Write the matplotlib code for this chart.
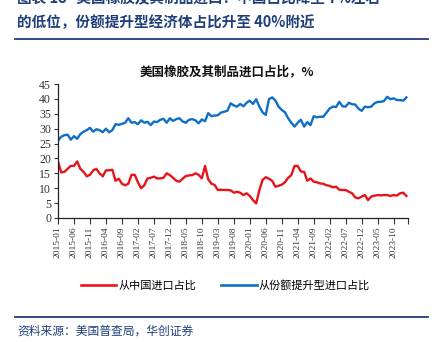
import numpy as np
import pandas as pd
import matplotlib
matplotlib.use("Agg")
import matplotlib.pyplot as plt
from matplotlib.lines import Line2D

plt.rcParams['font.family'] = ['Noto Sans CJK SC', 'DejaVu Sans']

# monthly, 2015-01 .. 2024-02
months = pd.date_range("2015-01-01", periods=110, freq="MS").strftime("%Y-%m").tolist()

china_share = [
    19, 15.3, 15.5, 16.5, 17.5, 17.5, 19, 16.5, 15.5, 14,
    14.5, 16, 16.5, 15, 14, 16, 16, 16.2, 12.5, 13.2,
    11.5, 11, 11.5, 14.5, 14.5, 12, 10, 11, 13.3, 13.5,
    13.9, 13.3, 13.3, 13.5, 15, 14.4, 13.5, 12.5, 12.2, 13.2,
    14.1, 14.3, 14.4, 15, 14.5, 13.3, 17.5, 13, 11.5, 11.1,
    9.4, 9.5, 9.4, 9.4, 9.3, 8.5, 8.8, 8.5, 7.7, 8.3,
    7.4, 6, 4.9, 9.4, 12.8, 13.7, 13.2, 12.5, 10.5, 10.8,
    11.2, 12, 13.5, 14.4, 17.5, 17.5, 15.6, 15.5, 12.5, 13.3,
    12.2, 12, 11.6, 11.5, 11, 10.8, 10.3, 10.5, 9.5, 9.4,
    9.4, 8.8, 8.3, 6.9, 6.6, 7.2, 7.7, 6, 7.2, 7.5,
    7.7, 7.6, 7.7, 7.7, 7.4, 7.7, 7.5, 8.3, 8.5, 7.4,
]

rising_share = [
    26, 27.3, 27.8, 28, 26.3, 27.5, 26.6, 28.2, 29, 29.5,
    30.3, 29, 29.8, 29.5, 28.8, 30, 28.8, 29.5, 31.5, 31.3,
    31.6, 32, 33.5, 32, 32.2, 31.5, 32.8, 32, 32.3, 31.2,
    32.4, 32.2, 33, 33.3, 32, 33.5, 32.6, 33.2, 33.5, 32.4,
    32, 33, 33.2, 32.8, 31.8, 33.1, 32.5, 35.2, 34.2, 34.4,
    34.5, 35.4, 35.7, 36, 38.5, 37.8, 37.4, 38.3, 37.5, 38.7,
    39.4, 38.3, 39.9, 37.4, 35.5, 34.6, 39.9, 40.5, 39.5, 37.4,
    36.3, 35.5, 33.5, 32, 30.7, 32, 33, 30.7, 32.2, 31.2,
    34.2, 33.8, 34, 34, 35.4, 36.8, 37.4, 37.3, 39, 37.5,
    37.4, 38.7, 38.2, 38.1, 36.7, 36, 37.4, 37.2, 37.4, 38.5,
    39, 39, 39.3, 40.7, 39.9, 40.2, 39.6, 39.6, 39.4, 40.5,
]

series_names = ["从中国进口占比", "从份额提升型进口占比"]
colors = ["#E8141B", "#0F6FC6"]
navy = "#1F3F7A"
serif = "Liberation Serif"

fig = plt.figure(figsize=(4.42, 3.42), dpi=100)
ax = fig.add_axes([58 / 442, 1 - 218 / 342, 350 / 442, 134 / 342])

x = np.arange(len(months))
ax.plot(x, china_share, color=colors[0], lw=1.7)
ax.plot(x, rising_share, color=colors[1], lw=1.7)

ax.set_xlim(0, 109.5)
ax.set_ylim(0, 45)
ax.set_yticks(np.arange(0, 50, 5))
ax.set_xticks(x[::5])
ax.set_xticklabels(months[::5], rotation=90, family=serif, fontsize=6.8, color="#333333")
ax.set_xticks([109.5], minor=True)
for lab in ax.get_yticklabels():
    lab.set_family(serif)
ax.tick_params(axis="y", labelsize=8.5, colors="#333333", length=3, width=0.8, pad=2)
ax.tick_params(axis="x", which="both", length=4, width=0.8, pad=2, colors="#333333")
for s in ["top", "right"]:
    ax.spines[s].set_visible(False)
for s in ["left", "bottom"]:
    ax.spines[s].set_color("#222222")
    ax.spines[s].set_linewidth(0.9)

fig.text(227 / 442, 1 - 72 / 342, "美国橡胶及其制品进口占比，%", ha="center", va="center",
         fontsize=9, fontweight="bold", color="#111111")

handles = [Line2D([], [], color=c, lw=1.9) for c in colors]
fig.legend(handles, series_names, loc="center", bbox_to_anchor=(0.51, 1 - 285 / 342),
           ncol=2, frameon=False, fontsize=8, handlelength=3.2, columnspacing=2.2,
           handletextpad=0.2)

# report header and footer
fig.text(17 / 442, 1 + 2 / 342, "图表 18   美国橡胶及其制品进口：中国占比降至 7%左右", ha="left",
         va="center", fontsize=10.5, fontweight="bold", color=navy)
fig.text(17 / 442, 1 - 22 / 342, "的低位，份额提升型经济体占比升至 40%附近", ha="left",
         va="center", fontsize=10.5, fontweight="bold", color=navy)
fig.add_artist(Line2D([15 / 442, 428 / 442], [1 - 39 / 342] * 2, color=navy, lw=1.3))
fig.add_artist(Line2D([15 / 442, 428 / 442], [1 - 317 / 342] * 2, color=navy, lw=1.3))
fig.text(17 / 442, 1 - 331 / 342, "资料来源：美国普查局，华创证券", ha="left", va="center",
         fontsize=8.5, style="italic", color=navy)

fig.savefig("out.png", dpi=100)
